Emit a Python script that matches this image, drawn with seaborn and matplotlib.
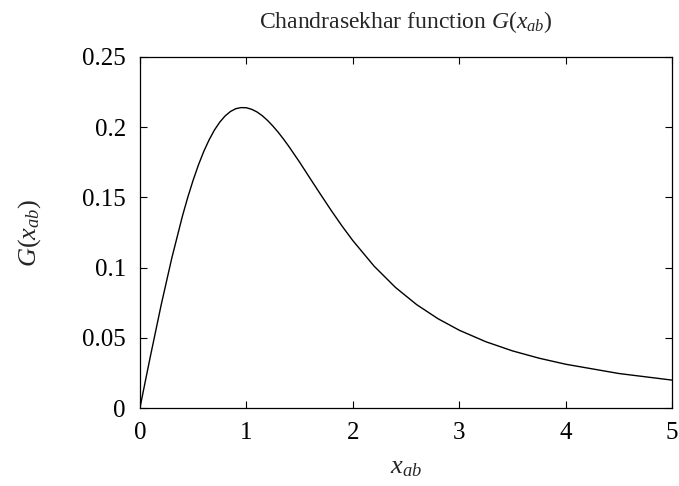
import matplotlib
matplotlib.use("Agg")
import matplotlib.pyplot as plt
import seaborn as sns
import pandas as pd

x_ab = [0.0, 0.05, 0.1, 0.2, 0.3, 0.4, 0.45, 0.5, 0.55, 0.6, 0.65, 0.7, 0.75, 0.8,
        0.85, 0.9, 0.95, 1.0, 1.05, 1.1, 1.15, 1.2, 1.25, 1.3, 1.35, 1.4,
        1.5, 1.6, 1.7, 1.8, 1.9, 2.0, 2.2, 2.4, 2.6, 2.8, 3.0, 3.25, 3.5, 3.75,
        4.0, 4.5, 5.0]
G_vals = [0.0, 0.0188, 0.0374, 0.0735, 0.1069, 0.1368, 0.1501, 0.1622, 0.1731,
          0.1827, 0.1909, 0.1979, 0.2035, 0.2079, 0.2111, 0.2131, 0.2139, 0.2138,
          0.2127, 0.2108, 0.2081, 0.2047, 0.2007, 0.1963, 0.1914, 0.1862,
          0.1751, 0.1634, 0.1518, 0.1404, 0.1295, 0.1193, 0.1011, 0.0860,
          0.0737, 0.0637, 0.0555, 0.0473, 0.0408, 0.0356, 0.0313, 0.0247, 0.0200]
x_ticks = [0, 1, 2, 3, 4, 5]
y_ticks = [0, 0.05, 0.1, 0.15, 0.2, 0.25]
y_tick_labels = ["0", "0.05", "0.1", "0.15", "0.2", "0.25"]

sns.set_theme(style="ticks")
plt.rcParams["font.family"] = ["Liberation Serif", "DejaVu Serif"]
plt.rcParams["mathtext.fontset"] = "custom"
plt.rcParams["mathtext.rm"] = "Liberation Serif"
plt.rcParams["mathtext.it"] = "Liberation Serif:italic"

df = pd.DataFrame({"x": x_ab, "G": G_vals})

fig = plt.figure(figsize=(6.79, 4.86), dpi=100)
ax = fig.add_axes([0.206, 0.160, 0.784, 0.723])
sns.lineplot(data=df, x="x", y="G", ax=ax, color="black", linewidth=1.0)

ax.set_xlim(0, 5)
ax.set_ylim(0, 0.25)
ax.set_xticks(x_ticks)
ax.set_xticklabels([str(t) for t in x_ticks])
ax.set_yticks(y_ticks)
ax.set_yticklabels(y_tick_labels)
ax.tick_params(direction="in", top=True, right=True, length=5, width=0.8,
               labelsize=18, colors="black", pad=10)
for s in ax.spines.values():
    s.set_linewidth(0.9)
    s.set_color("black")

gx = r"$G\mathit{(}x_{ab}\mathit{)}$"
ax.set_xlabel(r"$x_{ab}$", fontsize=19, labelpad=9)
ax.set_ylabel(gx, fontsize=19, labelpad=28)
ax.set_title("Chandrasekhar function " + gx, fontsize=17, pad=21)

fig.savefig("out.png", dpi=100)
